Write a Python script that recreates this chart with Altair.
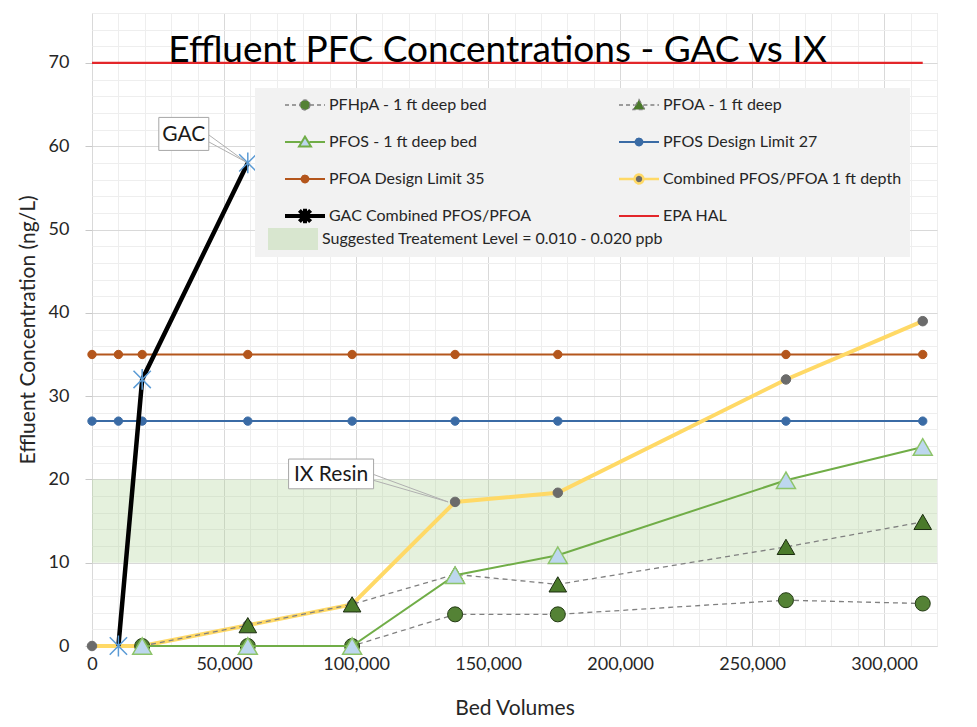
import altair as alt
import pandas as pd

# ---------------- data ----------------
bed_volumes = [0, 10000, 19000, 59000, 98500, 137500, 176400, 262800, 314600]
pfhpa = [None, None, 0, 0, 0, 3.8, 3.8, 5.5, 5.1]
pfoa = [None, None, 0, 2.5, 5.0, 8.6, 7.4, 11.9, 14.9]
pfos = [None, None, 0, 0, 0, 8.5, 10.9, 19.9, 23.9]
pfos_limit = [27, 27, 27, 27, 27, 27, 27, 27, 27]
pfoa_limit = [35, 35, 35, 35, 35, 35, 35, 35, 35]
combined = [0, None, 0, 2.5, 5.0, 17.3, 18.4, 32.0, 39.0]
gac = [None, 0, 32, 58, None, None, None, None, None]
epa_hal = [70, 70, 70, 70, 70, 70, 70, 70, 70]

series_names = [
    "PFHpA - 1 ft deep bed",
    "PFOA - 1 ft deep",
    "PFOS - 1 ft deep bed",
    "PFOS Design Limit 27",
    "PFOA Design Limit 35",
    "Combined PFOS/PFOA 1 ft depth",
    "GAC Combined PFOS/PFOA",
    "EPA HAL",
]
series_values = [pfhpa, pfoa, pfos, pfos_limit, pfoa_limit, combined, gac, epa_hal]

band_label = "Suggested Treatement Level = 0.010 - 0.020 ppb"
band_low = [10]
band_high = [20]

ann_labels = ["GAC", "IX Resin"]
ann_x = [bed_volumes[3], bed_volumes[5]]
ann_y = [gac[3], combined[5]]

title_text = "Effluent PFC Concentrations - GAC vs IX"
x_title = "Bed Volumes"
y_title = "Effluent Concentration (ng/L)"

# ---------------- tables ----------------
rows = []
for name, vals in zip(series_names, series_values):
    for bv, v in zip(bed_volumes, vals):
        if v is not None:
            rows.append({"series": name, "bv": bv, "value": v})
df = pd.DataFrame(rows)
band_df = pd.DataFrame({"label": [band_label], "low": band_low, "high": band_high})
ann_df = pd.DataFrame({"label": ann_labels, "x": ann_x, "y": ann_y})

# ---------------- styles ----------------
FONT = "Lato"
TXT = "#262626"
W, H = 845, 633

asterisk = "M-1,-1L1,1M-1,1L1,-1M0,-1.2L0,1.2"
styles = {
    "PFHpA - 1 ft deep bed": dict(line="#808080", width=1.3, dash=[5, 4], shape="circle", size=225,
                                  fill="#548235", stroke="#233A14", sw=1),
    "PFOA - 1 ft deep": dict(line="#808080", width=1.3, dash=[5, 4], shape="triangle-up", size=310,
                             fill="#4A7A2A", stroke="#1B2C0F", sw=1),
    "PFOS - 1 ft deep bed": dict(line="#70AD47", width=2, dash=None, shape="triangle-up", size=360,
                                 fill="#BDD7EE", stroke="#8DC46A", sw=1.5),
    "PFOS Design Limit 27": dict(line="#3A6BA5", width=2, dash=None, shape="circle", size=70,
                                 fill="#3A6BA5", stroke="#3A6BA5", sw=1),
    "PFOA Design Limit 35": dict(line="#B4561C", width=2, dash=None, shape="circle", size=70,
                                 fill="#B4561C", stroke="#B4561C", sw=1),
    "Combined PFOS/PFOA 1 ft depth": dict(line="#FFD966", width=4, dash=None, shape="circle", size=90,
                                          fill="#6B6B6B", stroke="#6B6B6B", sw=1),
    "GAC Combined PFOS/PFOA": dict(line="#000000", width=4.5, dash=None, shape=asterisk, size=300,
                                   fill="transparent", stroke="#5B9BD5", sw=1.5),
    "EPA HAL": dict(line="#E3262A", width=2.2, dash=None, shape=None),
}
draw_order = [
    "EPA HAL", "PFOS Design Limit 27", "PFOA Design Limit 35", "Combined PFOS/PFOA 1 ft depth",
    "PFHpA - 1 ft deep bed", "PFOA - 1 ft deep", "PFOS - 1 ft deep bed", "GAC Combined PFOS/PFOA",
]

# legend symbol paths (unit half-width = 1)
def circ(r):
    return f"M{r},0A{r},{r},0,1,1,-{r},0A{r},{r},0,1,1,{r},0Z"

tri = "M-1,0H-0.22M0.22,0H1M0,-0.27L0.3,0.23L-0.3,0.23Z"
leg_style = {
    "PFHpA - 1 ft deep bed": ("M-1,0H-0.25M0.25,0H1" + circ(0.25), "#548235", "#808080", [4, 3], 1.3),
    "PFOA - 1 ft deep": (tri, "#4A7A2A", "#808080", [4, 3], 1.3),
    "PFOS - 1 ft deep bed": (tri, "#BDD7EE", "#70AD47", [1, 0], 2),
    "PFOS Design Limit 27": ("M-1,0H1" + circ(0.17), "#3A6BA5", "#3A6BA5", [1, 0], 2),
    "PFOA Design Limit 35": ("M-1,0H1" + circ(0.17), "#B4561C", "#B4561C", [1, 0], 2),
    "Combined PFOS/PFOA 1 ft depth": ("M-1,0H-0.22M0.22,0H1" + circ(0.22), "#6B6B6B", "#FFD966", [1, 0], 2.5),
    "GAC Combined PFOS/PFOA": ("M-1,0H1M-0.28,-0.28L0.28,0.28M-0.28,0.28L0.28,-0.28M0,-0.36L0,0.36",
                               "transparent", "#000000", [1, 0], 4),
    "EPA HAL": ("M-1,0H1", "transparent", "#E3262A", [1, 0], 2.2),
}
# the legend fills its two columns top to bottom: order so rows read as in the reference
leg_order = [series_names[i] for i in (0, 2, 4, 6, 1, 3, 5, 7)]
leg_paths = [leg_style[n][0] for n in leg_order]
leg_fill = [leg_style[n][1] for n in leg_order]
leg_stroke = [leg_style[n][2] for n in leg_order]
leg_dash = [leg_style[n][3] for n in leg_order]
leg_width = [leg_style[n][4] for n in leg_order]

# ---------------- scales / axes ----------------
xscale = alt.Scale(domain=[0, 320000], nice=False, zero=False)
yscale = alt.Scale(domain=[0, 76], nice=False)
xaxis = alt.Axis(
    values=list(range(0, 320001, 10000)), format=",d",
    labelExpr="datum.value % 50000 === 0 ? datum.label : ''",
    labelOverlap=False, labelFlush=False, ticks=False, domain=False,
    labelFont=FONT, labelFontSize=18, labelColor=TXT, labelPadding=9,
    titleFont=FONT, titleFontSize=21, titleFontWeight="normal", titleColor=TXT, titlePadding=24,
    gridColor={"condition": {"test": "datum.value % 50000 === 0", "value": "#D9D9D9"}, "value": "#EEEEEE"},
    gridWidth=1,
)
yaxis = alt.Axis(
    values=list(range(0, 77, 2)),
    labelExpr="datum.value % 10 === 0 ? datum.label : ''",
    labelOverlap=False, labelFlush=False, ticks=True, tickSize=7, domain=False,
    tickColor={"condition": {"test": "datum.value % 10 === 0", "value": "#C8C8C8"}, "value": "transparent"},
    labelFont=FONT, labelFontSize=18, labelColor=TXT, labelPadding=16,
    titleFont=FONT, titleFontSize=21, titleFontWeight="normal", titleColor=TXT, titlePadding=10,
    gridColor={"condition": {"test": "datum.value % 10 === 0", "value": "#D9D9D9"}, "value": "#EEEEEE"},
    gridWidth=1,
)
X = alt.X("bv:Q", scale=xscale, axis=xaxis, title=x_title)
Y = alt.Y("value:Q", scale=yscale, axis=yaxis, title=y_title)

base = alt.Chart(df)
layers = []

# treatment band
legend_band = alt.Legend(
    orient="none", legendX=176, legendY=215, title=None, padding=0, zindex=2,
    symbolType="M-1,-0.44H1V0.44H-1Z", symbolSize=2500, symbolStrokeWidth=0, symbolOpacity=0.35,
    clipHeight=22, labelOffset=4, labelFont=FONT, labelFontSize=16, labelColor=TXT, labelLimit=500,
)
layers.append(
    alt.Chart(band_df).mark_rect(opacity=0.3).encode(
        x=alt.value(0), x2=alt.value("width"),
        y=alt.Y("low:Q", scale=yscale, axis=yaxis, title=y_title), y2="high:Q",
        color=alt.Color("label:N", scale=alt.Scale(domain=[band_label], range=["#A9D08E"]), legend=legend_band),
    )
)

for name in draw_order:
    st = styles[name]
    sub = base.transform_filter(alt.datum.series == name)
    lk = dict(color=st["line"], strokeWidth=st["width"])
    if st["dash"]:
        lk["strokeDash"] = st["dash"]
    layers.append(sub.mark_line(**lk).encode(x=X, y=Y))
    if st["shape"]:
        layers.append(
            sub.mark_point(shape=st["shape"], size=st["size"], filled=True, fill=st["fill"],
                           stroke=st["stroke"], strokeWidth=st["sw"], opacity=1).encode(x=X, y=Y)
        )

# callouts
callouts = {
    "GAC": dict(box="M-1,-0.66H1V0.66H-1Z", w=50, dx=-64, dy=-29, e1=(-39, -28), e2=(-39, -21), end=(-2, -1)),
    "IX Resin": dict(box="M-1,-0.35H1V0.35H-1Z", w=85, dx=-124, dy=-28, e1=(-83, -28), e2=(-83, -22), end=(-7, 0)),
}
for lab in ann_labels:
    c = callouts[lab]
    a = alt.Chart(ann_df).transform_filter(alt.datum.label == lab)
    AX = alt.X("x:Q", scale=xscale, axis=xaxis, title=x_title)
    AY = alt.Y("y:Q", scale=yscale, axis=yaxis, title=y_title)
    for e in (c["e1"], c["e2"]):
        layers.append(
            a.mark_rule(color="#B0B0B0", strokeWidth=1, xOffset=c["end"][0], yOffset=c["end"][1],
                        x2Offset=e[0], y2Offset=e[1]).encode(x=AX, x2="x:Q", y=AY, y2="y:Q")
        )
    layers.append(
        a.mark_point(shape=c["box"], size=c["w"] ** 2, filled=True, fill="white", stroke="#A6A6A6",
                     strokeWidth=1, opacity=1, xOffset=c["dx"], yOffset=c["dy"]).encode(x=AX, y=AY)
    )
    layers.append(
        a.mark_text(font=FONT, fontSize=21, color="#1A1A1A", align="center", baseline="middle",
                    xOffset=c["dx"], yOffset=c["dy"] + 1).encode(x=AX, y=AY, text="label:N")
    )

# legend carrier (no marks drawn, carries the series legend)
legend_main = alt.Legend(
    orient="none", legendX=163, legendY=75, columns=2, columnPadding=65, rowPadding=19,
    fillColor="#F2F2F2", padding=8, zindex=1, clipHeight=18, symbolSize=1600, symbolOffset=20,
    labelOffset=2, labelFont=FONT, labelFontSize=16, labelColor=TXT, labelLimit=400,
    title="\u00a0", titleOrient="bottom", titleFont=FONT, titleFontSize=16,
    titleFontWeight="normal", titlePadding=8, titleAnchor="start",
)
layers.append(
    base.transform_filter("false").mark_point(filled=True, opacity=1).encode(
        x=X, y=Y,
        shape=alt.Shape("series:N", scale=alt.Scale(domain=leg_order, range=leg_paths), legend=legend_main),
        fill=alt.Fill("series:N", scale=alt.Scale(domain=leg_order, range=leg_fill), legend=legend_main),
        stroke=alt.Stroke("series:N", scale=alt.Scale(domain=leg_order, range=leg_stroke), legend=legend_main),
        strokeDash=alt.StrokeDash("series:N", scale=alt.Scale(domain=leg_order, range=leg_dash), legend=legend_main),
        strokeWidth=alt.StrokeWidth("series:N", scale=alt.Scale(type="ordinal", domain=leg_order, range=leg_width),
                                    legend=legend_main),
    )
)

chart = alt.layer(*layers).properties(
    width=W, height=H,
    title=alt.TitleParams(title_text, font=FONT, fontSize=37, fontWeight="normal", color="#000000",
                          anchor="middle", offset=0, dy=103, dx=-17, baseline="bottom"),
    autosize=alt.AutoSizeParams(type="none"),
    padding={"left": 84, "top": 5, "right": 32, "bottom": 72},
).configure_view(strokeWidth=0).configure(background="white")

chart.save("out.html", embed_options={"renderer": "svg", "actions": False})
